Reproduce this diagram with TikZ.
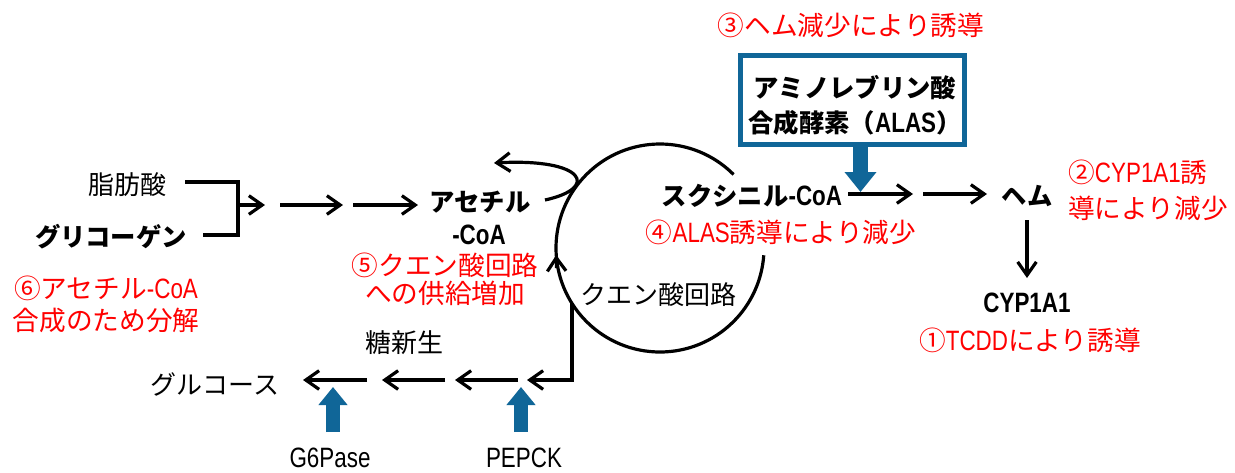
\documentclass[tikz,border=0pt]{standalone}
\usepackage{fontspec}
\newfontfamily\jp{Noto Sans CJK JP}
\newfontfamily\latf{Liberation Sans}[FakeStretch=0.8]
\newcommand\La[1]{{\latf\fontsize{21pt}{24pt}\selectfont #1}}
\newcommand\js[2]{\jp\fontsize{#1}{#2}\selectfont}
\usetikzlibrary{arrows.meta}
\definecolor{enzblue}{RGB}{16,102,152}
\definecolor{redtxt}{RGB}{255,0,0}
\tikzset{
  jt/.style={font=\js{19.5pt}{24pt}, inner sep=0pt, align=center},
  jb/.style={font=\js{19pt}{24pt}\bfseries, inner sep=0pt, align=center},
  rt/.style={font=\js{20pt}{24pt}, inner sep=0pt, align=center, text=redtxt},
  flow/.style={line width=2.4pt, -{Straight Barb[length=10pt,width=14pt]}},
  plain/.style={line width=2.4pt},
  enz/.style={enzblue, line width=10.5pt, -{Triangle[length=13.5pt,width=21pt]}},
}
\begin{document}
\begin{tikzpicture}[x=0.75pt,y=-0.75pt]
\useasboundingbox (0,0) rectangle (1235,472);

% texts
\node[rt] (t3) at (851,25) {③ヘム減少により誘導};
\node[draw=enzblue, line width=3.75pt, minimum width=168pt, minimum height=66.75pt, inner sep=0pt] (box) at (852.5,100) {};
\node[jb, font=\js{19pt}{26pt}\bfseries] (alas) at (855,105) {アミノレブリン酸\\合成酵素（\La{ALAS}）};

\node[jb] (suc) at (752,196) {スクシニル\La{-CoA}};
\node[jb] (heme) at (1027,196) {ヘム};
\node[rt, align=left, anchor=west, font=\js{20pt}{27pt}] (t2) at (1068,190) {②\La{CYP1A1}誘\\導により減少};
\node[jb] (cyp) at (1027,303) {\La{CYP1A1}};
\node[rt] (t1) at (1030,340) {①\La{TCDD}により誘導};
\node[rt] (t4) at (781,232) {④\La{ALAS}誘導により減少};

\node[jt] (tca) at (658,295) {クエン酸回路};
\node[jb] (acet) at (480,202) {アセチル};
\node[jb] (coa) at (479,235) {\La{-CoA}};
\node[rt, font=\js{20pt}{21pt}] (t5) at (445,279) {⑤クエン酸回路\\への供給増加};
\node[rt, font=\js{20pt}{24pt}] (t6) at (106,304) {⑥アセチル\La{-CoA}\\合成のため分解};

\node[jt] (fa) at (127,185) {脂肪酸};
\node[jb] (gly) at (111,237) {グリコーゲン};

\node[jt] (gng) at (404,343) {糖新生};
\node[jt] (glc) at (215,384) {グルコース};
\node[jt] (g6p) at (330,458) {\La{G6Pase}};
\node[jt] (pep) at (524,458) {\La{PEPCK}};

% coordinates
\coordinate (br1) at (185,182);
\coordinate (br2) at (238,182);
\coordinate (br3) at (238,235);
\coordinate (br4) at (203,235);
\coordinate (m0) at (238,205);
\coordinate (m1) at (265,205);
\coordinate (m2) at (280,205);
\coordinate (m3) at (343,205);
\coordinate (m4) at (353,205);
\coordinate (m5) at (418,205);
\coordinate (s1) at (848,194);
\coordinate (s2) at (913,194);
\coordinate (s3) at (923,194);
\coordinate (s4) at (987,194);
\coordinate (h1) at (1027,220);
\coordinate (h2) at (1027,278);
\coordinate (cc) at (660,248);
\coordinate (lp1) at (545,200);
\coordinate (lp2) at (494,163);
\coordinate (ca1) at (556.6,268);
\coordinate (ca2) at (556.2,255);
\coordinate (oa) at (572,303);
\coordinate (oc) at (572,380);
\coordinate (g1) at (527,380);
\coordinate (g2) at (518,380);
\coordinate (g3) at (455,380);
\coordinate (g4) at (445,380);
\coordinate (g5) at (382,380);
\coordinate (g6) at (367,380);
\coordinate (g7) at (303,380);
\coordinate (eb) at (860.5,192);
\coordinate (e1a) at (333,432);
\coordinate (e1b) at (333,387);
\coordinate (e2a) at (521,432);
\coordinate (e2b) at (521,387);

% connectors
\draw[plain] (br1) -- (br2) -- (br3) -- (br4);
\draw[flow] (m0) -- (m1);
\draw[flow] (m2) -- (m3);
\draw[flow] (m4) -- (m5);
\draw[flow] (s1) -- (s2);
\draw[flow] (s3) -- (s4);
\draw[flow] (h1) -- (h2);
\draw[plain] (cc) ++(45:78pt) arc[start angle=45, end angle=356, radius=78pt];
\draw[flow] (lp1) .. controls (600,188) and (585,158) .. (lp2);
\draw[flow] (ca1) -- (ca2);
\draw[flow] (oa) -- (oc) -- (g1);
\draw[flow] (g2) -- (g3);
\draw[flow] (g4) -- (g5);
\draw[flow] (g6) -- (g7);
\draw[enz, line width=11.25pt, -{Triangle[length=15pt,width=23pt]}] (box.south -| eb) -- (eb);
\draw[enz] (e1a) -- (e1b);
\draw[enz] (e2a) -- (e2b);
\end{tikzpicture}
\end{document}
